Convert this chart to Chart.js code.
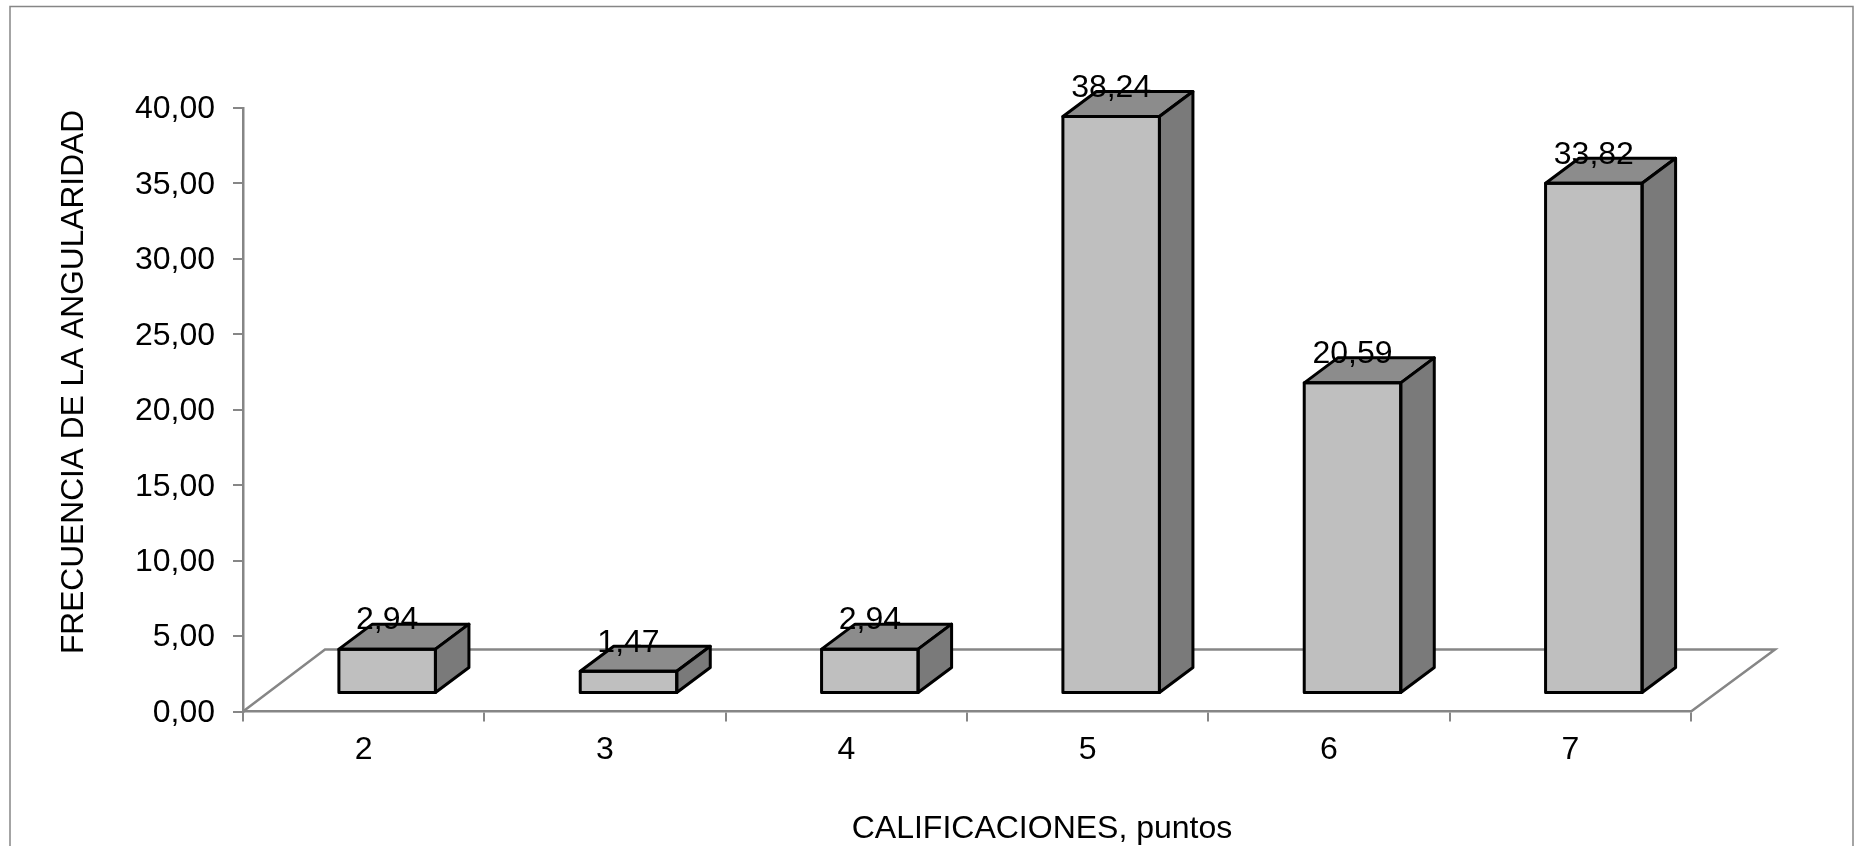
<!DOCTYPE html>
<html>
<head>
<meta charset="utf-8">
<style>
html, body { margin: 0; padding: 0; background: #fff; overflow: hidden; }
canvas { display: block; }
</style>
<script src="https://cdn.jsdelivr.net/npm/chart.js@4"></script>
</head>
<body>
<canvas id="myChart" width="1854" height="846"></canvas>
<script>
const categories = ['2', '3', '4', '5', '6', '7'];
const frecuencia = [2.94, 1.47, 2.94, 38.24, 20.59, 33.82];
const xTitle = 'CALIFICACIONES, puntos';
const yTitle = 'FRECUENCIA DE LA ANGULARIDAD';

const FONT = '"Liberation Sans", Arial, sans-serif';
const AXIS_GRAY = '#868686';

// front faces sit forward on the floor, depth goes back and to the right
const FRONT_DX = 23.5, FRONT_DY = -18;
const DEPTH_X = 33.5, DEPTH_Y = 25;
const FLOOR_X = 82, FLOOR_Y = 62;

function fmt(v) {
  return Number(v).toFixed(2).replace('.', ',');
}

function poly(ctx, pts, fill) {
  ctx.beginPath();
  pts.forEach((p, i) => i ? ctx.lineTo(p[0], p[1]) : ctx.moveTo(p[0], p[1]));
  ctx.closePath();
  ctx.fillStyle = fill;
  ctx.fill();
  ctx.stroke();
}

const fake3d = {
  id: 'fake3d',
  beforeDraw(chart) {
    const ctx = chart.ctx;
    ctx.save();
    ctx.strokeStyle = AXIS_GRAY;
    ctx.lineWidth = 1.5;
    ctx.strokeRect(10, 6.5, 1843, 900);
    ctx.restore();
    // y tick labels sit a little lower than the tick marks
    if (!chart.$ticksMoved) {
      chart.scales.y.getLabelItems().forEach(it => { it.options.translation[1] += 1.5; });
      chart.$ticksMoved = true;
    }
  },
  beforeDatasetsDraw(chart) {
    const ctx = chart.ctx, a = chart.chartArea;
    ctx.save();
    ctx.strokeStyle = AXIS_GRAY;
    ctx.lineWidth = 2.5;
    ctx.lineJoin = 'miter';
    ctx.beginPath();
    ctx.moveTo(a.left, a.bottom);
    ctx.lineTo(a.left + FLOOR_X, a.bottom - FLOOR_Y);
    ctx.lineTo(a.right + FLOOR_X + 2, a.bottom - FLOOR_Y);
    ctx.lineTo(a.right, a.bottom);
    ctx.stroke();
    ctx.restore();
  },
  beforeDatasetDraw(chart) {
    chart.ctx.save();
    chart.ctx.translate(FRONT_DX, FRONT_DY);
  },
  afterDatasetDraw(chart, args) {
    const ctx = chart.ctx;
    ctx.restore();
    ctx.save();
    ctx.strokeStyle = '#000';
    ctx.lineWidth = 3;
    ctx.lineJoin = 'round';
    args.meta.data.forEach(bar => {
      const l = bar.x - bar.width / 2 + FRONT_DX;
      const r = bar.x + bar.width / 2 + FRONT_DX;
      const t = bar.y + FRONT_DY;
      const b = bar.base + FRONT_DY;
      poly(ctx, [[l, t], [l + DEPTH_X, t - DEPTH_Y], [r + DEPTH_X, t - DEPTH_Y], [r, t]], '#8C8C8C');
      poly(ctx, [[r, t], [r + DEPTH_X, t - DEPTH_Y], [r + DEPTH_X, b - DEPTH_Y], [r, b]], '#7A7A7A');
      ctx.strokeRect(l, t, r - l, b - t);
    });
    ctx.restore();
  },
  afterDatasetsDraw(chart) {
    const ctx = chart.ctx;
    ctx.save();
    ctx.fillStyle = '#000';
    ctx.font = '32px ' + FONT;
    ctx.textAlign = 'center';
    ctx.textBaseline = 'middle';
    chart.getDatasetMeta(0).data.forEach((bar, i) => {
      ctx.fillText(fmt(frecuencia[i]), bar.x + FRONT_DX, bar.y + FRONT_DY - 28.5);
    });
    // axis titles are not centred on the axes in the original
    ctx.fillText(xTitle, 1042, 829);
    ctx.font = '31.7px ' + FONT;
    ctx.translate(74, 382);
    ctx.rotate(-Math.PI / 2);
    ctx.fillText(yTitle, 0, 0);
    ctx.restore();
  }
};

new Chart(document.getElementById('myChart').getContext('2d'), {
  type: 'bar',
  plugins: [fake3d],
  data: {
    labels: categories,
    datasets: [{
      data: frecuencia,
      backgroundColor: '#BFBFBF',
      borderWidth: 0,
      barPercentage: 0.4,
      categoryPercentage: 1
    }]
  },
  options: {
    responsive: false,
    animation: false,
    layout: { padding: { left: 0, right: 163, top: 108, bottom: 0 } },
    plugins: { legend: { display: false }, tooltip: { enabled: false }, title: { display: false } },
    scales: {
      x: {
        afterFit(s) { s.height = 134.5; },
        grid: { drawOnChartArea: false, color: AXIS_GRAY, lineWidth: 2, tickLength: 10 },
        border: { color: AXIS_GRAY, width: 2.5 },
        ticks: { color: '#000', font: { family: FONT, size: 32 }, padding: 9, maxRotation: 0 }
      },
      y: {
        min: 0,
        max: 40,
        afterFit(s) { s.width = 243; },
        grid: { drawOnChartArea: false, color: AXIS_GRAY, lineWidth: 2, tickLength: 10 },
        border: { color: AXIS_GRAY, width: 2.5 },
        ticks: { stepSize: 5, color: '#000', font: { family: FONT, size: 32 }, padding: 18, callback: v => fmt(v) }
      }
    }
  }
});
</script>
</body>
</html>
